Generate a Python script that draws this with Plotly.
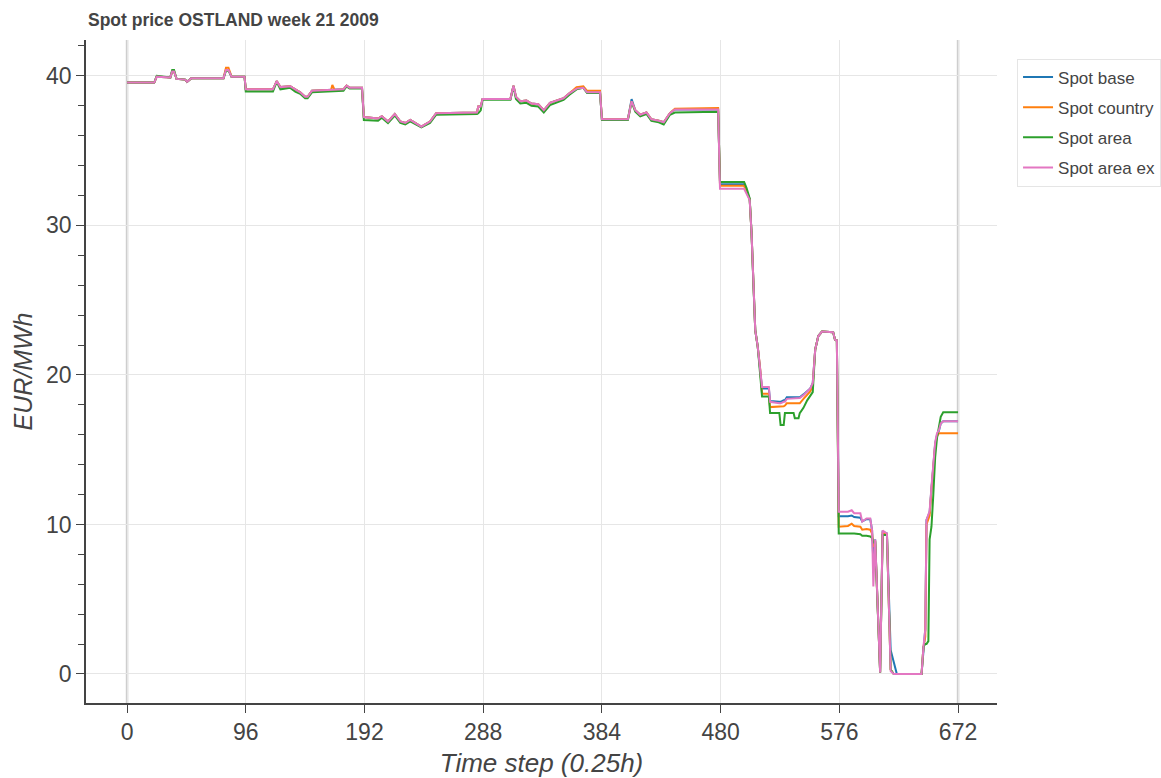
import plotly.graph_objects as go

# Time-step vertices (0.25 h steps)
t = [0, 22, 24, 35, 36.5, 38, 40, 47, 48.5, 52, 78, 80, 82, 84.5, 95, 96,
     118, 121, 124, 130, 132, 136, 140, 144, 146, 149.5, 165, 166, 168, 175, 177.5, 180, 190, 191.5,
     203, 206, 211, 216.5, 221, 225, 229, 234, 238, 245, 250, 283, 284, 286, 287.5,
     310, 312.5, 314.5, 318, 323, 327, 332.5, 337, 342, 347.5, 353, 358, 363.5, 369, 372, 382.5, 384,
     405, 408, 411, 415, 420, 424, 430, 434, 439, 443, 478, 479.5,
     499, 501, 503.5, 505, 506.5, 508, 510, 512, 513.5, 519, 520, 527.5, 528.5, 531, 532, 533.5,
     539, 540, 543, 544, 547, 550, 552.5, 554.5, 556.5, 559, 562, 571, 572.5, 574, 575.5,
     583, 586, 588, 593, 594.5, 598, 601, 602.5, 603.5, 605, 609, 611, 614.5, 617.5, 620, 622.5,
     642.5, 644, 645.5, 646.5, 648, 649, 650.5, 652, 653.5, 655, 656.5, 658, 660, 672]

spot_base = [39.55, 39.55, 39.95, 39.9, 40.3, 40.3, 39.8, 39.75, 39.6, 39.85, 39.85, 40.4, 40.4, 39.95, 39.95, 39.1,
             39.1, 39.65, 39.25, 39.25, 39.3, 39.1, 38.9, 38.6, 38.6, 39.0, 39.05, 39.05, 39.05, 39.1, 39.35, 39.2, 39.2, 37.25,
             37.15, 37.3, 36.95, 37.45, 36.95, 36.85, 37.05, 36.8, 36.6, 36.95, 37.5, 37.55, 37.95, 37.95, 38.45,
             38.45, 39.35, 38.6, 38.3, 38.35, 38.15, 38.1, 37.7, 38.2, 38.35, 38.5, 38.85, 39.15, 39.2, 38.9, 38.9, 37.1,
             37.1, 38.45, 37.7, 37.4, 37.55, 37.1, 37.0, 36.9, 37.5, 37.75, 37.75, 32.75,
             32.75, 32.3, 31.75, 29.5, 26.1, 23.0, 21.9, 20.5, 19.1, 19.1, 18.25, 18.2, 18.2, 18.3, 18.3, 18.5,
             18.5, 18.5, 18.5, 18.5, 18.7, 18.9, 19.1, 19.45, 21.7, 22.6, 22.9, 22.85, 22.35, 22.3, 10.55,
             10.55, 10.6, 10.5, 10.45, 10.2, 10.35, 10.35, 9.6, 7.5, 9.0, 0.1, 9.5, 9.4, 1.6, 0.8, 0.0,
             0.0, 1.8, 3.0, 10.3, 10.6, 10.8, 12.4, 14.2, 15.4, 16.0, 16.25, 16.75, 16.9, 16.9]

spot_country = [39.55, 39.55, 39.95, 39.9, 40.3, 40.3, 39.8, 39.75, 39.6, 39.85, 39.85, 40.55, 40.55, 39.95, 39.95, 39.1,
                39.1, 39.65, 39.25, 39.25, 39.3, 39.1, 38.9, 38.6, 38.6, 39.0, 39.05, 39.4, 39.05, 39.1, 39.35, 39.2, 39.2, 37.25,
                37.15, 37.3, 36.95, 37.45, 36.95, 36.85, 37.05, 36.8, 36.6, 36.95, 37.5, 37.55, 37.95, 37.95, 38.45,
                38.45, 39.35, 38.6, 38.3, 38.35, 38.15, 38.1, 37.7, 38.2, 38.35, 38.5, 38.85, 39.25, 39.3, 39.0, 39.0, 37.1,
                37.1, 38.3, 37.7, 37.4, 37.55, 37.1, 37.0, 36.9, 37.5, 37.8, 37.85, 32.65,
                32.65, 32.2, 31.75, 29.5, 26.1, 23.0, 21.9, 20.4, 18.75, 18.75, 17.85, 17.85, 17.85, 17.9, 17.95, 18.1,
                18.1, 18.1, 18.1, 18.1, 18.4, 18.7, 18.9, 19.3, 21.7, 22.6, 22.9, 22.85, 22.35, 22.3, 9.85,
                9.9, 10.05, 9.9, 9.85, 9.65, 9.7, 9.65, 9.4, 8.5, 8.9, 0.1, 9.4, 9.35, 0.3, 0.0, 0.0,
                0.0, 1.8, 2.5, 10.0, 10.3, 10.6, 12.3, 14.1, 15.3, 15.9, 16.1, 16.1, 16.1, 16.1]

spot_area = [39.55, 39.55, 40.0, 39.9, 40.4, 40.4, 39.8, 39.75, 39.6, 39.85, 39.85, 40.35, 40.35, 39.95, 39.95, 38.95,
             38.95, 39.6, 39.1, 39.15, 39.2, 38.95, 38.8, 38.5, 38.5, 38.9, 38.95, 38.95, 38.95, 39.0, 39.3, 39.15, 39.15, 37.05,
             37.0, 37.2, 36.85, 37.35, 36.85, 36.75, 36.95, 36.7, 36.55, 36.85, 37.4, 37.45, 37.5, 37.7, 38.4,
             38.4, 39.3, 38.45, 38.15, 38.2, 38.0, 37.95, 37.55, 38.05, 38.2, 38.4, 38.75, 39.1, 39.2, 38.85, 38.85, 37.05,
             37.05, 38.25, 37.6, 37.3, 37.45, 37.0, 36.9, 36.75, 37.4, 37.55, 37.6, 32.9,
             32.9, 32.5, 31.8, 29.5, 26.1, 23.0, 21.9, 20.2, 18.55, 18.55, 17.45, 17.45, 16.65, 16.65, 17.45, 17.45,
             17.45, 17.1, 17.1, 17.45, 17.8, 18.3, 18.6, 18.85, 21.7, 22.6, 22.9, 22.85, 22.35, 22.3, 9.4,
             9.4, 9.45, 9.4, 9.35, 9.25, 9.25, 9.2, 9.1, 8.8, 8.8, 0.1, 9.3, 9.3, 0.3, 0.0, 0.0,
             0.0, 1.8, 2.0, 2.0, 2.2, 9.0, 9.85, 12.0, 14.5, 15.8, 16.5, 17.2, 17.5, 17.5]

spot_area_ex = [39.55, 39.55, 39.95, 39.9, 40.3, 40.3, 39.8, 39.75, 39.6, 39.85, 39.85, 40.4, 40.4, 39.95, 39.95, 39.1,
                39.1, 39.65, 39.25, 39.25, 39.3, 39.1, 38.9, 38.6, 38.6, 39.0, 39.05, 39.05, 39.05, 39.1, 39.35, 39.2, 39.2, 37.25,
                37.15, 37.3, 36.95, 37.45, 36.95, 36.85, 37.05, 36.8, 36.6, 36.95, 37.5, 37.55, 37.95, 37.95, 38.45,
                38.45, 39.35, 38.6, 38.3, 38.35, 38.15, 38.1, 37.7, 38.2, 38.35, 38.5, 38.85, 39.15, 39.2, 38.9, 38.9, 37.1,
                37.1, 38.3, 37.7, 37.4, 37.55, 37.1, 37.0, 36.9, 37.5, 37.75, 37.75, 32.45,
                32.45, 32.1, 31.7, 29.5, 26.1, 23.0, 21.9, 20.55, 19.2, 19.2, 18.2, 18.1, 18.1, 18.2, 18.2, 18.4,
                18.4, 18.4, 18.4, 18.45, 18.65, 18.9, 19.1, 19.45, 21.7, 22.6, 22.9, 22.85, 22.35, 22.3, 10.85,
                10.85, 10.95, 10.75, 10.75, 10.2, 10.4, 10.4, 9.6, 5.85, 9.0, 0.1, 9.6, 9.4, 0.2, 0.0, 0.0,
                0.0, 1.8, 3.0, 10.3, 10.6, 10.9, 12.5, 14.3, 15.5, 16.1, 16.3, 16.75, 16.9, 16.9]

series_names = ["Spot base", "Spot country", "Spot area", "Spot area ex"]
series_colors = ["#1f77b4", "#ff7f0e", "#2ca02c", "#e377c2"]
series_values = [spot_base, spot_country, spot_area, spot_area_ex]

x_ticks = [0, 96, 192, 288, 384, 480, 576, 672]
y_ticks = [0, 10, 20, 30, 40]
day_marks = [0, 672]

FONT = "Liberation Sans, Arial, Helvetica, sans-serif"

fig = go.Figure()
for i, (name, color, vals) in enumerate(zip(series_names, series_colors, series_values)):
    fig.add_trace(go.Scatter(x=t, y=vals, mode="lines", name=name,
                             line=dict(color=color, width=2),
                             legendgroup=f"g{i}", hoverinfo="skip"))

for xm in day_marks:
    fig.add_shape(type="line", xref="x", yref="paper", x0=xm, x1=xm, y0=0, y1=1,
                  line=dict(color="rgba(190,190,190,0.75)", width=2.5), layer="below")

fig.update_layout(
    width=1161, height=778,
    margin=dict(l=86, r=164, t=40, b=75, autoexpand=False),
    paper_bgcolor="white", plot_bgcolor="white",
    font=dict(family=FONT, color="#444444"),
    title=dict(text="<b>Spot price OSTLAND week 21 2009</b>",
               font=dict(family=FONT, size=17.5, color="#444444"),
               xref="container", yref="container",
               x=88 / 1161, xanchor="left", y=1 - 20 / 778, yanchor="middle"),
    showlegend=True,
    legend=dict(x=1.022, y=0.972, xanchor="left", yanchor="top",
                bgcolor="white", bordercolor="#e5e5e5", borderwidth=1,
                font=dict(family=FONT, size=17, color="#444444"),
                tracegroupgap=5, traceorder="grouped"),
    hovermode=False,
)

fig.update_xaxes(
    range=[-33.2, 703.5], tickmode="array", tickvals=x_ticks,
    showline=True, linecolor="#444444", linewidth=1.5,
    ticks="outside", ticklen=8, tickcolor="#444444",
    tickfont=dict(family=FONT, size=23, color="#444444"),
    showgrid=True, gridcolor="#e6e6e6", gridwidth=1, zeroline=False,
    title=dict(text="Time step (0.25h)", standoff=28,
               font=dict(family=FONT, size=26, color="#444444", style="italic")),
)
fig.update_yaxes(
    range=[-1.94, 42.4], tickmode="array", tickvals=y_ticks,
    showline=True, linecolor="#444444", linewidth=1.5,
    ticks="outside", ticklen=8, tickcolor="#444444",
    tickfont=dict(family=FONT, size=23, color="#444444"),
    minor=dict(tick0=0, dtick=2, ticks="outside", ticklen=6, tickcolor="#444444", showgrid=False),
    showgrid=True, gridcolor="#e6e6e6", gridwidth=1, zeroline=False,
    title=dict(text="EUR/MWh", standoff=6,
               font=dict(family=FONT, size=25, color="#444444", style="italic")),
)

fig.write_html("out.html")
